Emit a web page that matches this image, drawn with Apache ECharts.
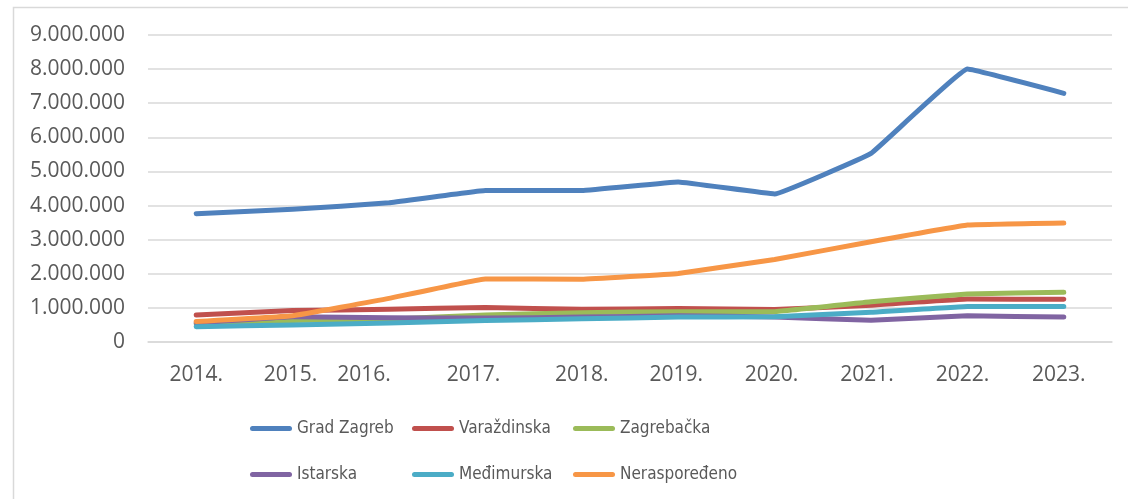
<!DOCTYPE html>
<html>
<head>
<meta charset="utf-8">
<script src="https://cdn.jsdelivr.net/npm/echarts@6/dist/echarts.min.js"></script>
<style>
  html, body { margin: 0; padding: 0; background: #ffffff; }
  #chart { width: 1128px; height: 499px; }
</style>
</head>
<body>
<div id="chart"></div>
<script>
// ---- data ----
const years = ['2014.', '2015.', '2016.', '2017.', '2018.', '2019.', '2020.', '2021.', '2022.', '2023.'];
const gradZagreb   = [3760000, 3890000, 4080000, 4440000, 4440000, 4690000, 4340000, 5530000, 8000000, 7290000];
const varazdinska  = [790000, 920000, 960000, 1010000, 960000, 980000, 950000, 1080000, 1260000, 1250000];
const zagrebacka   = [530000, 630000, 670000, 790000, 860000, 890000, 890000, 1180000, 1410000, 1460000];
const istarska     = [560000, 740000, 710000, 700000, 730000, 770000, 730000, 640000, 770000, 730000];
const medjimurska  = [450000, 500000, 560000, 630000, 680000, 730000, 740000, 870000, 1040000, 1040000];
const neraspodjeljeno = [600000, 770000, 1280000, 1850000, 1840000, 2010000, 2420000, 2940000, 3430000, 3490000];
const seriesNames = ['Grad Zagreb', 'Varaždinska', 'Zagrebačka', 'Istarska', 'Međimurska', 'Neraspoređeno'];
const yTicks = [0, 1000000, 2000000, 3000000, 4000000, 5000000, 6000000, 7000000, 8000000, 9000000];

// ---- layout / style ----
const colors = ['#4F81BD', '#C0504D', '#9BBB59', '#8064A2', '#4BACC6', '#F79646'];
const labelShift = [0, -2, -25, -12, 0, -2, -3, -4, -5, -5]; // px horizontal shift of x tick labels
const legendLeft = [250, 412, 573];
const legendTop = [420, 466];
const allValues = [gradZagreb, varazdinska, zagrebacka, istarska, medjimurska, neraspodjeljeno];

function fmt(v) {
  return String(v).replace(/\B(?=(\d{3})+(?!\d))/g, '.');
}

const rich = {};
labelShift.forEach((s, i) => {
  rich['s' + i] = {
    fontFamily: 'Open Sans', fontSize: 21, color: '#595959',
    padding: s < 0 ? [0, -2 * s, 0, 0] : [0, 0, 0, 2 * s]
  };
});

const chart = echarts.init(document.getElementById('chart'), null, { renderer: 'canvas' });

const legends = seriesNames.map((name, i) => ({
  orient: 'horizontal',
  left: legendLeft[i % 3],
  top: legendTop[Math.floor(i / 3)],
  padding: 0,
  itemWidth: 42,
  itemHeight: 5,
  itemGap: 0,
  icon: 'path://M2.5,0H39.5A2.5,2.5 0 0 1 39.5,5H2.5A2.5,2.5 0 0 1 2.5,0Z',
  textStyle: {
    fontFamily: 'DejaVu Sans Condensed, sans-serif',
    fontSize: 17,
    color: '#595959'
  },
  data: [name]
}));

chart.setOption({
  animation: false,
  backgroundColor: '#ffffff',
  color: colors,
  graphic: [{
    type: 'rect',
    left: 11, top: 5,
    shape: { x: 0, y: 0, width: 1130, height: 520 },
    style: { fill: 'none', stroke: '#d9d9d9', lineWidth: 1.5 },
    silent: true, z: -1
  }],
  grid: { left: 148, right: 16, top: 35, bottom: 157, containLabel: false },
  legend: legends,
  xAxis: {
    type: 'category',
    data: years,
    boundaryGap: true,
    axisLine: { show: true, lineStyle: { color: '#d9d9d9', width: 1.5 } },
    axisTick: { show: false },
    axisLabel: {
      margin: 23,
      interval: 0,
      formatter: (v, i) => '{s' + i + '|' + v + '}',
      rich: rich
    }
  },
  yAxis: {
    type: 'value',
    min: yTicks[0],
    max: yTicks[yTicks.length - 1],
    interval: yTicks[1] - yTicks[0],
    axisLine: { show: false },
    axisTick: { show: false },
    splitLine: { lineStyle: { color: '#d9d9d9', width: 1.5 } },
    axisLabel: {
      margin: 23,
      fontFamily: 'Open Sans',
      fontSize: 21,
      color: '#595959',
      formatter: fmt
    }
  },
  series: seriesNames.map((name, i) => ({
    name: name,
    type: 'line',
    data: allValues[i],
    symbol: 'none',
    smooth: 0.06,
    lineStyle: { width: 5, color: colors[i], cap: 'round', join: 'round' },
    itemStyle: { color: colors[i] }
  }))
});
</script>
</body>
</html>
